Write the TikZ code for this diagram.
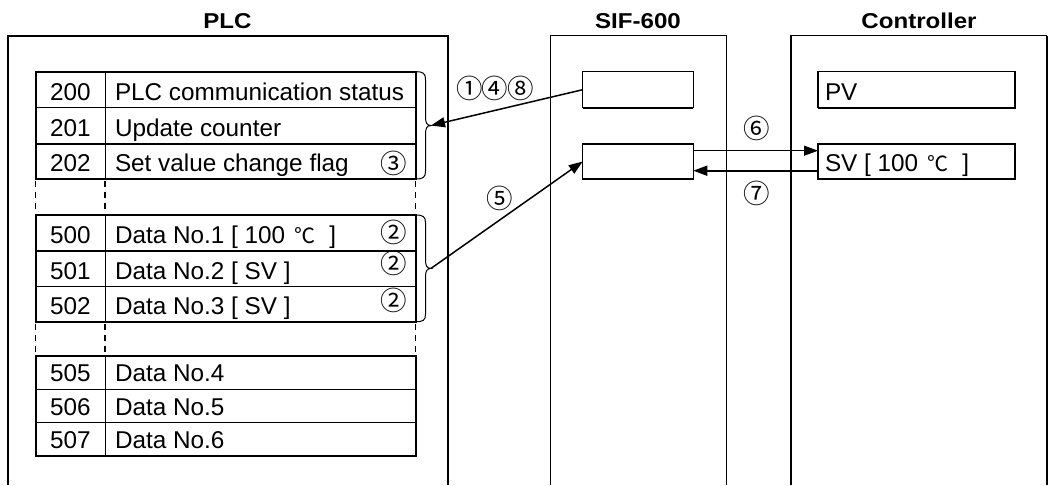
\documentclass[tikz,border=0pt]{standalone}
\usepackage{fontspec}
\setmainfont{Liberation Sans}
\newfontfamily\cjk{Noto Sans CJK JP}
\usetikzlibrary{arrows.meta}
\newcommand{\degc}{\hspace{0.4em}{\cjk\fontsize{21}{24}\selectfont ℃}\hspace{0.55em}}
\begin{document}
\begin{tikzpicture}[x=1pt,y=-1pt,
  every node/.style={inner sep=0pt, outer sep=0pt},
  tfont/.style={font=\fontsize{24.3}{28}\selectfont},
  title/.style={anchor=base, font=\bfseries\fontsize{21.5}{24}\selectfont},
  num/.style={anchor=base, tfont},
  lbl/.style={anchor=base west, tfont},
  circ/.style={anchor=center, font=\cjk\fontsize{26.5}{28}\selectfont},
  ibox/.style={draw, line width=1.2pt},
  thickline/.style={line width=2pt},
  sepline/.style={line width=1.5pt},
  thinline/.style={line width=1pt},
  dashline/.style={line width=1.5pt, dash pattern=on 6pt off 5pt},
  brace/.style={line width=1pt},
  arr/.style={-{Triangle[length=14pt,width=10pt]}, line width=1.5pt}
]
\useasboundingbox (0,0) rectangle (1048,485);

% titles
\node[title] (tplc) at (227.5,28.5) {\scalebox{1.12}[1]{PLC}};
\node[title] (tsif) at (638,28.5) {\scalebox{1.12}[1]{SIF-600}};
\node[title] (tctl) at (919,28.5) {\scalebox{1.12}[1]{Controller}};

% outer frames (open at the bottom)
\draw[thickline] (7.5,485) -- (7.5,35.7) -- (447.5,35.7) -- (447.5,485);
\draw[thinline] (550.5,485) -- (550.5,35.7) -- (726,35.7) -- (726,485);
\draw[line width=1.5pt] (791,485) -- (791,35.7) -- (1046.5,35.7);
\draw[thickline] (1046.5,35.7) -- (1046.5,485);

% table blocks
\foreach \a/\b/\c/\d in {71.7/107.7/144/179, 215/251/286.7/321.7, 355.7/389.3/422.7/455.7}{
  \draw[sepline] (35.7,\b) -- (415.7,\b);
  \draw[sepline] (35.7,\c) -- (415.7,\c);
  \draw[thinline] (105,\a) -- (105,\d);
  \draw[thickline] (35.7,\a) rectangle (415.7,\d);
}
% dashed continuation
\foreach \x in {35.7,105,415.7}{
  \draw[dashline] (\x,181) -- (\x,214);
  \draw[dashline] (\x,323.5) -- (\x,355);
}

% table texts
\node[num] (n200) at (70.3,100) {200};
\node[lbl] (l200) at (115,100) {PLC communication status};
\node[num] (n201) at (70.3,136.2) {201};
\node[lbl] (l201) at (115,136.2) {Update counter};
\node[num] (n202) at (70.3,171.8) {202};
\node[lbl] (l202) at (115,171.8) {Set value change flag};
\node[circ] (c3) at (394,163) {③};

\node[num] (n500) at (70.3,243.3) {500};
\node[lbl] (l500) at (115,243.3) {Data No.1 [ 100\degc]};
\node[circ] (c2a) at (394,232.5) {②};
\node[num] (n501) at (70.3,279.2) {501};
\node[lbl] (l501) at (115,279.2) {Data No.2 [ SV ]};
\node[circ] (c2b) at (394,263) {②};
\node[num] (n502) at (70.3,314.5) {502};
\node[lbl] (l502) at (115,314.5) {Data No.3 [ SV ]};
\node[circ] (c2c) at (394,300) {②};

\node[num] (n505) at (70.3,381.5) {505};
\node[lbl] (l505) at (115,381.5) {Data No.4};
\node[num] (n506) at (70.3,415) {506};
\node[lbl] (l506) at (115,415) {Data No.5};
\node[num] (n507) at (70.3,448.2) {507};
\node[lbl] (l507) at (115,448.2) {Data No.6};

% braces
\draw[brace] (415.7,71.7) .. controls (423,71.7) and (425.5,73) .. (425.5,80)
  -- (425.5,117) .. controls (425.5,123) and (427,125.5) .. (431,125.5)
  .. controls (427,125.5) and (425.5,128) .. (425.5,134)
  -- (425.5,171) .. controls (425.5,177.5) and (423,179) .. (415.7,179);
\coordinate (b1) at (431,125.5);
\draw[brace] (415.7,215) .. controls (423,215) and (425.5,216.5) .. (425.5,223)
  -- (425.5,260) .. controls (425.5,266) and (427,268.4) .. (431,268.4)
  .. controls (427,268.4) and (425.5,271) .. (425.5,277)
  -- (425.5,314) .. controls (425.5,320.5) and (423,321.7) .. (415.7,321.7);
\coordinate (b2) at (431,268.4);

% SIF-600 boxes
\node[ibox, minimum width=110.6pt, minimum height=36pt] (s1) at (638,89.7) {};
\node[ibox, minimum width=110.6pt, minimum height=35pt] (s2) at (638,161.5) {};
\draw[line width=2pt] (s1.south west) -- (s1.south east);
\draw[line width=2pt] (s2.south west) -- (s2.south east);

% Controller boxes
\node[ibox, minimum width=197pt, minimum height=36pt] (pv) at (916.5,89.85) {};
\node[ibox, minimum width=197pt, minimum height=35pt] (sv) at (916.5,161.5) {};
\draw[line width=2pt] (pv.south west) -- (pv.south east) -- (pv.north east);
\draw[line width=2pt] (sv.south west) -- (sv.south east) -- (sv.north east);
\node[lbl] (tpv) at (825,100) {PV};
\node[lbl] (tsv) at (825,171.8) {SV [ 100\degc]};

% connectors
\draw[arr] (s1.west) -- (b1);
\draw[arr] (b2) -- (s2.west);
\coordinate (y6) at (0,150.7);
\coordinate (y7) at (0,170.7);
\draw[-{Triangle[length=14pt,width=10pt]}, line width=1pt] (s2.east |- y6) -- (sv.west |- y6);
\draw[-{Triangle[length=14pt,width=10pt]}, line width=1.8pt] (sv.west |- y7) -- (s2.east |- y7);

% step labels
\node[circ] (k1) at (469.5,88) {①};
\node[circ] (k4) at (495,88) {④};
\node[circ] (k8) at (520.5,88) {⑧};
\node[circ] (k5) at (500,198) {⑤};
\node[circ] (k6) at (757,128) {⑥};
\node[circ] (k7) at (757,193) {⑦};
\end{tikzpicture}
\end{document}
